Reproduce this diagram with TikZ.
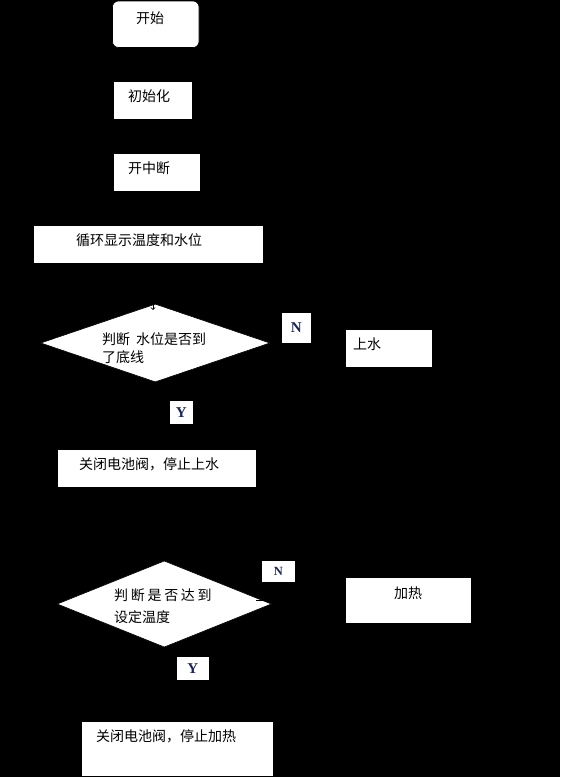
\documentclass[tikz,border=0pt]{standalone}
\usepackage{fontspec}
\setmainfont{Liberation Serif}
\newfontfamily\cjk{Noto Sans CJK SC}
\usetikzlibrary{shapes.geometric}
\definecolor{yncol}{RGB}{28,38,92}

\begin{document}
\begin{tikzpicture}[x=1pt,y=-1pt,
        box/.style={draw=black,fill=white,line width=0.6pt,inner sep=0pt},
        decide/.style={shape=diamond,draw=black,fill=white,line width=0.6pt,inner sep=0pt},
        txt/.style={inner sep=0pt,anchor=west,align=left,font=\cjk\fontsize{14pt}{17.7pt}\selectfont},
        yn/.style={box,text=yncol,font=\bfseries\fontsize{15pt}{17pt}\selectfont},
        conn/.style={draw=black,line width=0.8pt,->}]
            % background
            \fill[black] (0,0) rectangle (560,777);
            % boxes
            \node[box,rounded corners=6pt,minimum width=86.5pt,minimum height=46.5pt] (start) at (155.75,24.25) {};
            \node[box,minimum width=79.2pt,minimum height=38.7pt] (init) at (152.5,100.3) {};
            \node[box,minimum width=87pt,minimum height=38.7pt] (intr) at (156.4,172.3) {};
            \node[box,minimum width=230.7pt,minimum height=38.7pt] (loop) at (148.2,244.3) {};
            \node[decide,minimum width=229.3pt,minimum height=78pt] (dec1) at (155.3,343) {};
            \node[box,minimum width=87pt,minimum height=38.7pt] (water) at (388.5,348.3) {};
            \node[box,minimum width=198.9pt,minimum height=38.7pt] (stopw) at (156.6,468.3) {};
            \node[decide,minimum width=214.3pt,minimum height=86.3pt] (dec2) at (164.3,604) {};
            \node[box,minimum width=126pt,minimum height=46pt] (heat) at (408,600.3) {};
            \node[box,minimum width=192pt,minimum height=55pt] (stoph) at (177,748.5) {};
            % texts
            \node[txt] (start-t) at (136,18.3) {开始};
            \node[txt] (init-t) at (128,96) {初始化};
            \node[txt] (intr-t) at (128,168) {开中断};
            \node[txt] (loop-t) at (76,240.3) {循环显示温度和水位};
            \node[txt] (dec1-t) at (102,347.9) {判断\hspace{6pt}水位是否到\\了底线};
            \node[txt] (water-t) at (353,344.5) {上水};
            \node[txt] (stopw-t) at (79,464) {关闭电池阀，停止上水};
            \node[txt,font=\cjk\fontsize{14pt}{22.3pt}\selectfont] (dec2-t) at (114,606.2)
                {判\hspace{2.7pt}断\hspace{2.7pt}是\hspace{2.7pt}否\hspace{2.7pt}达\hspace{2.7pt}到\\设定温度};
            \node[txt] (heat-t) at (394,593) {加热};
            \node[txt] (stoph-t) at (96,736.2) {关闭电池阀，停止加热};
            % N / Y
            \node[yn,minimum width=30.7pt,minimum height=30.3pt] (n1) at (296.3,327.8) {N};
            \node[yn,minimum width=24.3pt,minimum height=23.6pt] (y1) at (181.2,412.5) {Y};
            \node[yn,font=\bfseries\fontsize{12.5pt}{15pt}\selectfont,minimum width=34.7pt,minimum height=22.4pt] (n2) at (278.4,571.5) {N};
            \node[yn,minimum width=32.3pt,minimum height=23.3pt] (y2) at (192.9,668.3) {Y};
            % connectors
            \coordinate (dec1-in) at (153,310);
            \coordinate (dec2-out) at (256,600);
            \draw[conn] (start) -- (start |- init.north);
            \draw[conn] (init) -- (init |- intr.north);
            \draw[conn] (intr.south) -- (intr.south |- loop.north);
            \draw[conn] (loop.south -| dec1-in) -- (dec1-in);
            \draw[conn] (dec1.east) -- (dec1.east -| water.west);
            \draw[conn] (dec1.south) -- (dec1.south |- stopw.north);
            \draw[conn] (stopw.south -| dec2.north) -- (dec2.north);
            \draw[conn] (dec2-out) -- (dec2-out -| heat.west);
            \draw[conn] (dec2.south) -- (dec2.south |- stoph.north);
        \end{tikzpicture}
\end{document}
